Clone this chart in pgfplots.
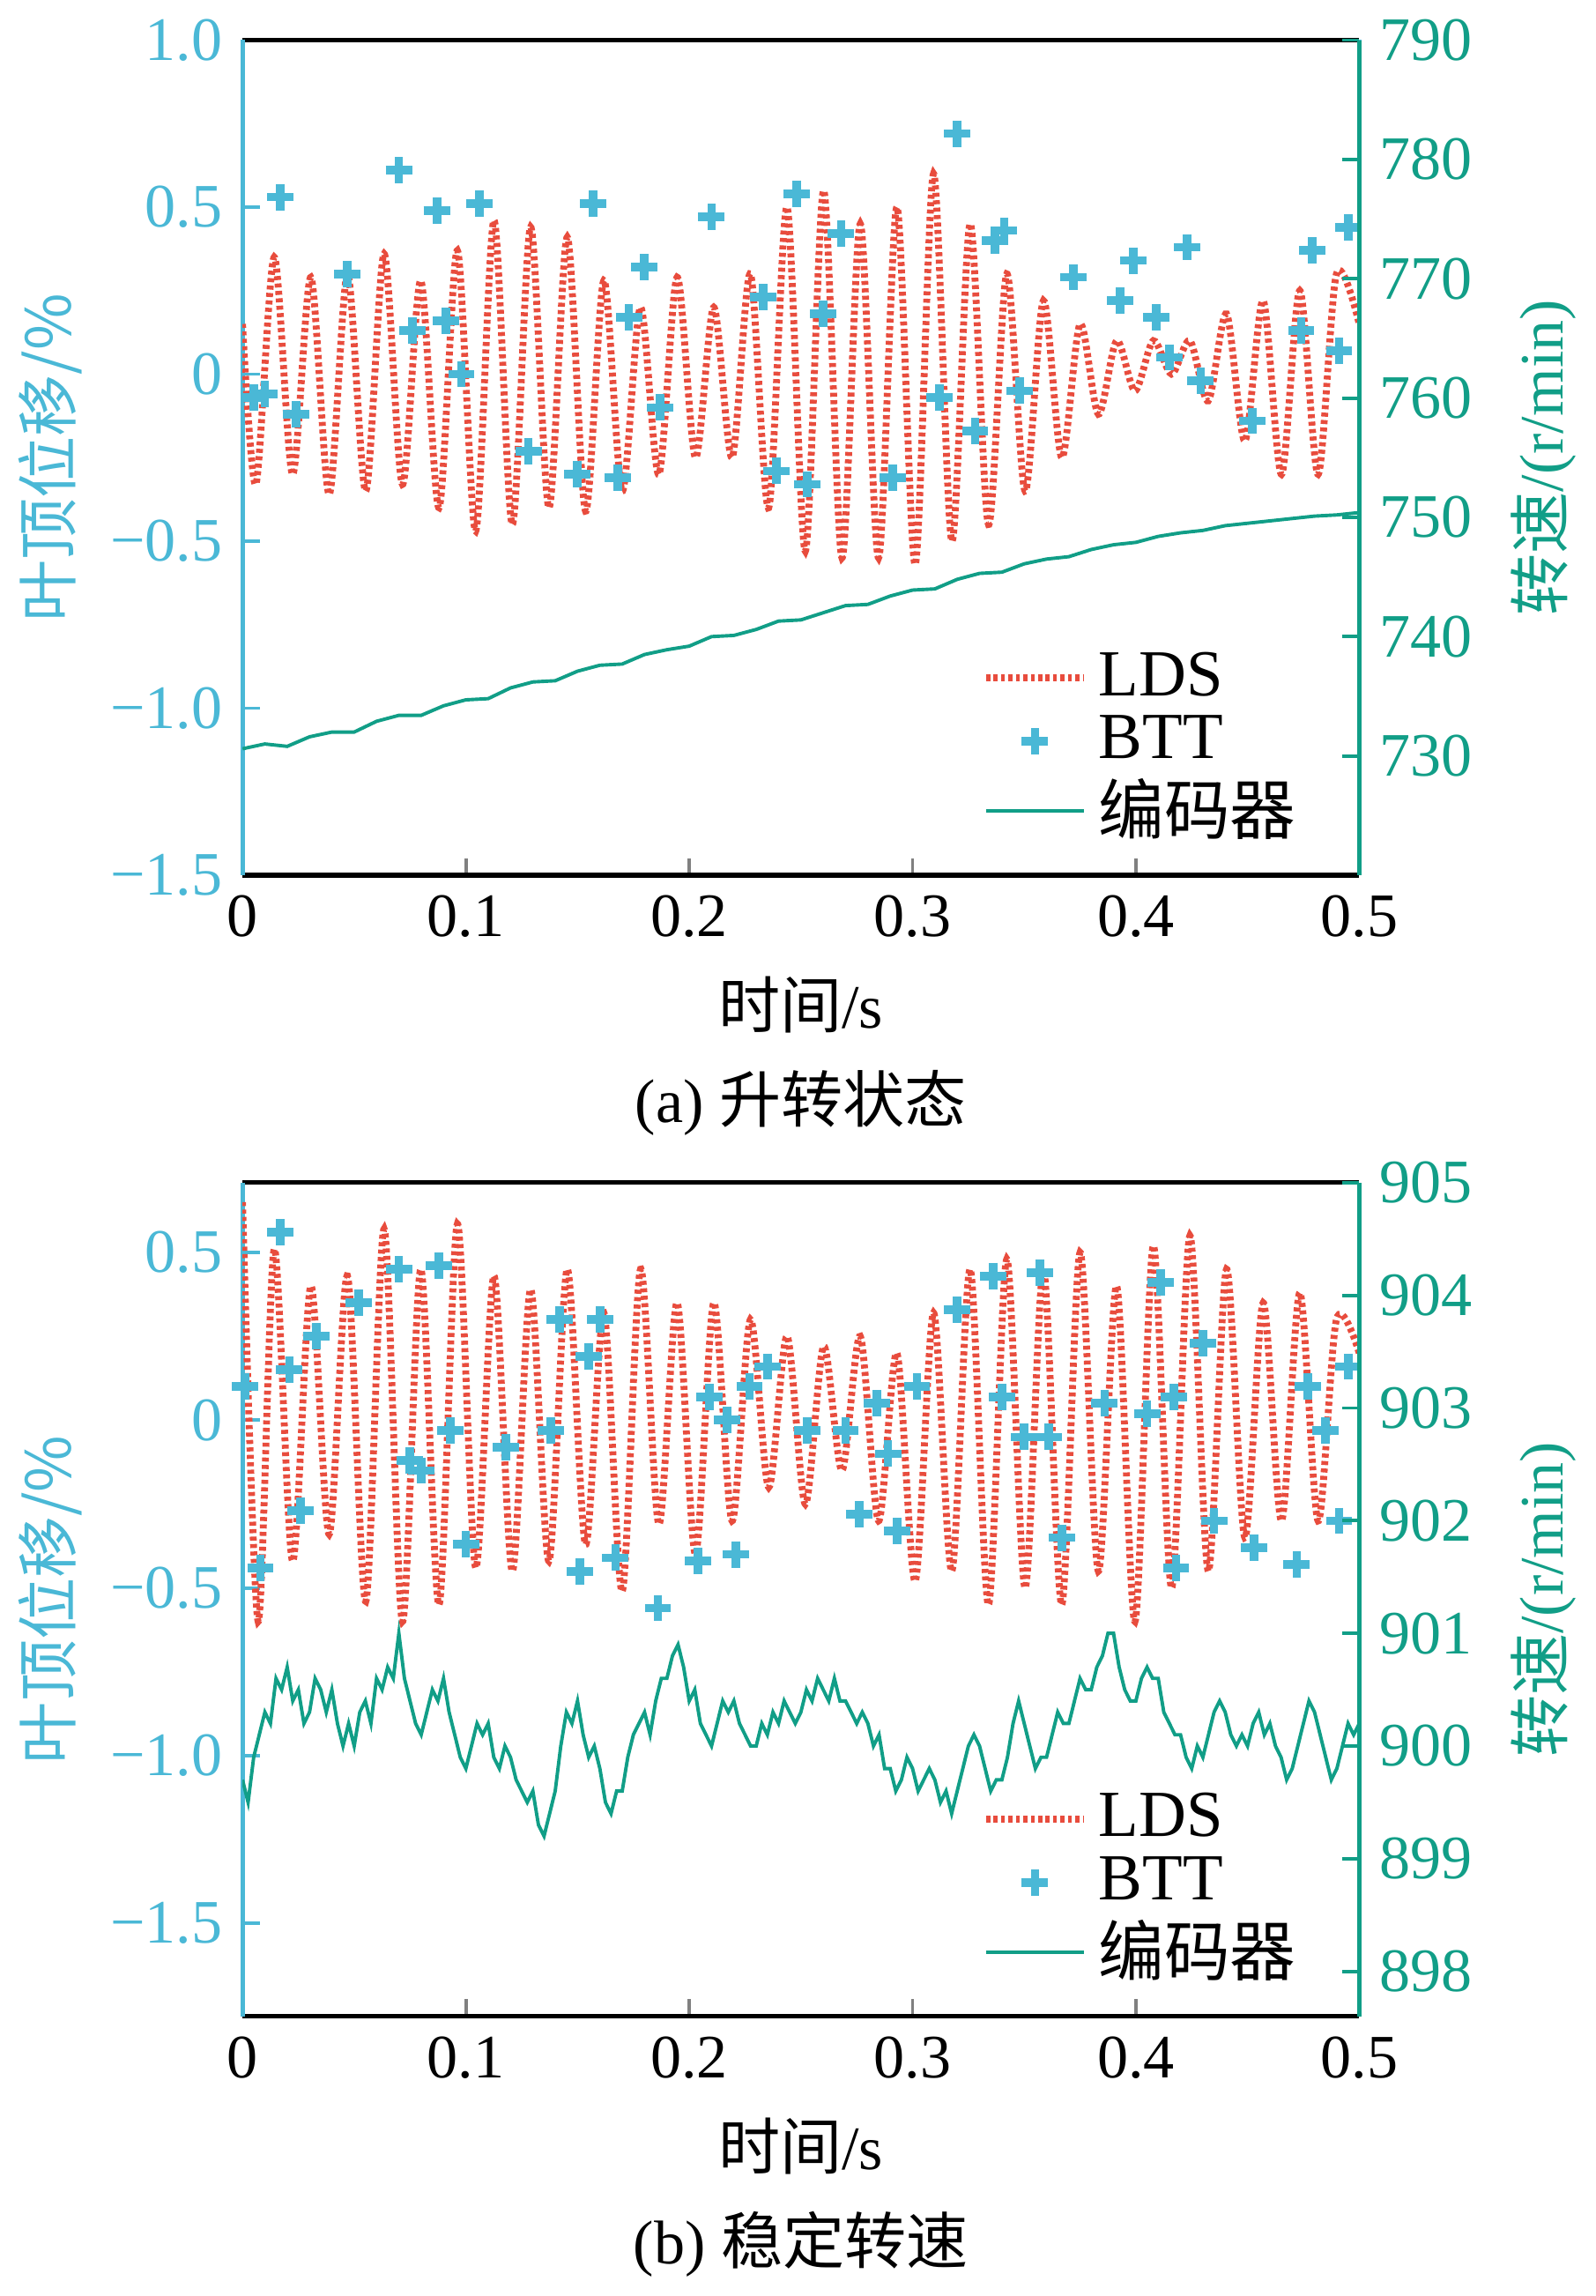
\documentclass[border=0pt]{standalone}
\usepackage{pgfplots}
\pgfplotsset{compat=1.18}
\usepackage{fontspec}
\setmainfont{Liberation Serif}
\newfontfamily\cjk{Noto Sans CJK SC}
\definecolor{cc}{HTML}{4AB8D6}
\definecolor{tt}{HTML}{119E87}
\definecolor{rr}{HTML}{E84C3D}
\pgfplotsset{
 base/.style={width=195.25pt,height=146pt,scale only axis,xmin=0,xmax=0.5,
  font=\fontsize{10.8}{12.5}\selectfont, /pgf/number format/assume math mode=true,
  major tick length=3pt, tick style={line width=0.6pt}},
 lds/.style={rr,line width=1.2pt,dash pattern=on 0.7pt off 0.6pt,smooth},
 btt/.style={only marks,cc,mark=+,mark size=2.3pt,mark options={line width=1.5pt}},
 enc/.style={tt,line width=0.6pt},
}
\begin{document}
\begin{tikzpicture}
% ---------- (a) ----------
\begin{axis}[base, at={(0,0)}, ymin=-1.5,ymax=1.0,
 ytick={-1.5,-1,-0.5,0,0.5,1}, yticklabels={−1.5,−1.0,−0.5,0,0.5,1.0},
 xtick={0,0.1,0.2,0.3,0.4,0.5}, xticklabels={0,0.1,0.2,0.3,0.4,0.5},
 yticklabel style={cc}, y axis line style={cc}, ytick style={cc},
 separate axis lines, x axis line style={black}, axis line style={line width=0.8pt},
 ylabel={\cjk 叶顶位移/\%}, ylabel style={cc,yshift=-2pt},
 xlabel={{\cjk 时间}/s\\[4pt](a) {\cjk 升转状态}}, xlabel style={align=center},
 ytick pos=left, xtick pos=bottom]
\addplot[lds] coordinates {
(0,0.15)(0.006,-0.33)
(0.0142,0.35)(0.0224,-0.30)(0.0306,0.29)(0.0388,-0.36)(0.047,0.30)(0.0552,-0.35)
(0.0634,0.36)(0.0716,-0.33)(0.0798,0.28)(0.088,-0.40)(0.0962,0.37)(0.1044,-0.47)
(0.1126,0.46)(0.1208,-0.45)(0.129,0.44)(0.1372,-0.40)(0.1454,0.41)(0.1536,-0.41)
(0.1618,0.28)(0.17,-0.35)(0.1782,0.2)(0.1864,-0.30)(0.1946,0.29)(0.2028,-0.25)
(0.211,0.2)(0.2192,-0.25)(0.2274,0.3)(0.2356,-0.4)(0.2438,0.5)(0.252,-0.53)
(0.2602,0.55)(0.2684,-0.55)(0.2766,0.45)(0.2848,-0.55)(0.293,0.5)(0.3012,-0.57)
(0.3094,0.6)(0.3176,-0.5)(0.3258,0.45)(0.334,-0.45)(0.3422,0.3)(0.3504,-0.35)
(0.3586,0.22)(0.3668,-0.25)(0.375,0.15)(0.3832,-0.12)(0.3914,0.1)(0.3996,-0.05)
(0.4078,0.1)(0.416,0.0)(0.4242,0.1)(0.4324,-0.08)(0.4406,0.18)(0.4488,-0.2)
(0.457,0.22)(0.4652,-0.3)(0.4734,0.25)(0.4816,-0.3)(0.4898,0.3)(0.5,0.15)};
\addplot[btt] coordinates {
(0.005,-0.07)(0.01,-0.06)(0.017,0.53)(0.024,-0.12)(0.047,0.3)(0.07,0.61)(0.076,0.13)
(0.087,0.49)(0.091,0.16)(0.098,0.0)(0.106,0.51)(0.128,-0.23)(0.15,-0.3)(0.157,0.51)
(0.168,-0.31)(0.173,0.17)(0.18,0.32)(0.187,-0.1)(0.21,0.47)(0.233,0.23)(0.239,-0.29)
(0.248,0.54)(0.253,-0.33)(0.26,0.18)(0.268,0.42)(0.291,-0.31)(0.312,-0.07)(0.32,0.72)
(0.328,-0.17)(0.337,0.4)(0.341,0.43)(0.348,-0.05)(0.372,0.29)(0.393,0.22)(0.399,0.34)
(0.409,0.17)(0.415,0.05)(0.423,0.38)(0.429,-0.02)(0.452,-0.14)(0.474,0.13)(0.479,0.37)
(0.491,0.07)(0.495,0.44)};
\end{axis}
\begin{axis}[base, at={(0,0)}, ymin=720,ymax=790, ytick={730,740,...,790},
 axis y line*=right, axis x line=none, yticklabel style={tt}, y axis line style={tt,line width=0.8pt}, ytick style={tt},
 ylabel={{\cjk 转速}/(r/min)}, ylabel style={tt},
 legend style={draw=none,fill=none,at={(0.97,0.01)},anchor=south east,font=\fontsize{11.5}{13}\selectfont,row sep=-2pt},
 legend cell align=left]
\addlegendimage{lds,sharp plot}\addlegendentry{LDS}
\addlegendimage{btt}\addlegendentry{BTT}
\addplot[enc] coordinates {
(0,730.6)(0.01,731.0)(0.02,730.8)(0.03,731.6)(0.04,732.0)(0.05,732.0)(0.06,732.9)(0.07,733.4)
(0.08,733.4)(0.09,734.2)(0.1,734.7)(0.11,734.8)(0.12,735.7)(0.13,736.2)(0.14,736.3)(0.15,737.1)
(0.16,737.6)(0.17,737.7)(0.18,738.5)(0.19,738.9)(0.2,739.2)(0.21,740.0)(0.22,740.1)(0.23,740.6)
(0.24,741.3)(0.25,741.4)(0.26,742.0)(0.27,742.6)(0.28,742.7)(0.29,743.4)(0.3,743.9)(0.31,744.0)
(0.32,744.8)(0.33,745.3)(0.34,745.4)(0.35,746.1)(0.36,746.5)(0.37,746.7)(0.38,747.3)(0.39,747.7)
(0.4,747.9)(0.41,748.4)(0.42,748.7)(0.43,748.9)(0.44,749.3)(0.45,749.5)(0.46,749.7)(0.47,749.9)
(0.48,750.1)(0.49,750.2)(0.5,750.4)};
\addlegendentry{\cjk 编码器}
\end{axis}
% ---------- (b) ----------
\begin{axis}[base, at={(0,-199.5pt)}, height=145.75pt, ymin=-1.777,ymax=0.708,
 ytick={-1.5,-1,-0.5,0,0.5}, yticklabels={−1.5,−1.0,−0.5,0,0.5},
 xtick={0,0.1,0.2,0.3,0.4,0.5}, xticklabels={0,0.1,0.2,0.3,0.4,0.5},
 yticklabel style={cc}, y axis line style={cc}, ytick style={cc},
 separate axis lines, x axis line style={black}, axis line style={line width=0.8pt},
 ylabel={\cjk 叶顶位移/\%}, ylabel style={cc,yshift=-2pt},
 xlabel={{\cjk 时间}/s\\[4pt](b) {\cjk 稳定转速}}, xlabel style={align=center},
 ytick pos=left, xtick pos=bottom]
\addplot[lds] coordinates {
(0,0.65)(0.007,-0.60)
(0.0142,0.51)(0.0224,-0.42)(0.0306,0.40)(0.0388,-0.34)(0.047,0.43)(0.0552,-0.54)
(0.0634,0.57)(0.0716,-0.60)(0.0798,0.45)(0.088,-0.55)(0.0962,0.585)(0.1044,-0.44)
(0.1126,0.43)(0.1208,-0.45)(0.129,0.39)(0.1372,-0.42)(0.1454,0.45)(0.1536,-0.37)
(0.1618,0.32)(0.17,-0.51)(0.1782,0.45)(0.1864,-0.31)(0.1946,0.35)(0.2028,-0.4)
(0.211,0.35)(0.2192,-0.3)(0.2274,0.3)(0.2356,-0.2)(0.2438,0.25)(0.252,-0.25)
(0.2602,0.22)(0.2684,-0.15)(0.2766,0.25)(0.2848,-0.3)(0.293,0.2)(0.3012,-0.48)
(0.3094,0.32)(0.3176,-0.45)(0.3258,0.45)(0.334,-0.55)(0.3422,0.48)(0.3504,-0.5)
(0.3586,0.45)(0.3668,-0.55)(0.375,0.5)(0.3832,-0.45)(0.3914,0.4)(0.3996,-0.6)
(0.4078,0.52)(0.416,-0.5)(0.4242,0.55)(0.4324,-0.45)(0.4406,0.45)(0.4488,-0.35)
(0.457,0.35)(0.4652,-0.3)(0.4734,0.38)(0.4816,-0.3)(0.4898,0.3)(0.5,0.2)};
\addplot[btt] coordinates {
(0.001,0.1)(0.008,-0.44)(0.017,0.56)(0.021,0.15)(0.026,-0.27)(0.033,0.25)(0.052,0.35)
(0.07,0.45)(0.075,-0.12)(0.08,-0.15)(0.088,0.46)(0.093,-0.03)(0.1,-0.37)(0.118,-0.08)
(0.138,-0.03)(0.142,0.3)(0.151,-0.45)(0.155,0.19)(0.16,0.3)(0.167,-0.41)(0.186,-0.56)
(0.204,-0.42)(0.209,0.07)(0.217,0.0)(0.221,-0.4)(0.227,0.1)(0.235,0.16)(0.253,-0.03)
(0.27,-0.03)(0.276,-0.28)(0.284,0.05)(0.289,-0.1)(0.293,-0.33)(0.302,0.1)(0.32,0.33)
(0.336,0.43)(0.34,0.07)(0.35,-0.05)(0.357,0.44)(0.361,-0.05)(0.367,-0.35)(0.386,0.05)
(0.405,0.02)(0.411,0.41)(0.417,0.07)(0.43,0.23)(0.418,-0.44)(0.435,-0.3)(0.453,-0.38)
(0.472,-0.43)(0.477,0.1)(0.485,-0.03)(0.491,-0.3)(0.495,0.16)};
\end{axis}
\begin{axis}[base, at={(0,-199.5pt)}, height=145.75pt, ymin=897.6,ymax=905, ytick={898,899,...,905},
 axis y line*=right, axis x line=none, yticklabel style={tt}, y axis line style={tt,line width=0.8pt}, ytick style={tt},
 ylabel={{\cjk 转速}/(r/min)}, ylabel style={tt},
 legend style={draw=none,fill=none,at={(0.97,0.01)},anchor=south east,font=\fontsize{11.5}{13}\selectfont,row sep=-2pt},
 legend cell align=left]
\addlegendimage{lds,sharp plot}\addlegendentry{LDS}
\addlegendimage{btt}\addlegendentry{BTT}
\addplot[enc] coordinates {
(0,899.7)(0.0025,899.5)(0.005,899.9)(0.0075,900.1)(0.01,900.3)(0.0125,900.2)(0.015,900.6)(0.0175,900.5)
(0.02,900.7)(0.0225,900.4)(0.025,900.5)(0.0275,900.2)(0.03,900.3)(0.0325,900.6)(0.035,900.5)(0.0375,900.3)
(0.04,900.5)(0.0425,900.2)(0.045,900.0)(0.0475,900.2)(0.05,900.0)(0.0525,900.3)(0.055,900.4)(0.0575,900.2)
(0.06,900.6)(0.0625,900.5)(0.065,900.7)(0.0675,900.6)(0.07,901.0)(0.0725,900.6)(0.075,900.4)(0.0775,900.2)
(0.08,900.1)(0.0825,900.3)(0.085,900.5)(0.0875,900.4)(0.09,900.6)(0.0925,900.3)(0.095,900.1)(0.0975,899.9)
(0.1,899.8)(0.1025,900.0)(0.105,900.2)(0.1075,900.1)(0.11,900.2)(0.1125,899.9)(0.115,899.8)(0.1175,900.0)
(0.12,899.9)(0.1225,899.7)(0.125,899.6)(0.1275,899.5)(0.13,899.6)(0.1325,899.3)(0.135,899.2)(0.1375,899.4)
(0.14,899.6)(0.1425,900.0)(0.145,900.3)(0.1475,900.2)(0.15,900.4)(0.1525,900.1)(0.155,899.9)(0.1575,900.0)
(0.16,899.8)(0.1625,899.5)(0.165,899.4)(0.1675,899.6)(0.17,899.6)(0.1725,899.9)(0.175,900.1)(0.1775,900.2)
(0.18,900.3)(0.1825,900.1)(0.185,900.4)(0.1875,900.6)(0.19,900.6)(0.1925,900.8)(0.195,900.9)(0.1975,900.7)
(0.2,900.4)(0.2025,900.5)(0.205,900.2)(0.2075,900.1)(0.21,900.0)(0.2125,900.2)(0.215,900.4)(0.2175,900.3)
(0.22,900.4)(0.2225,900.2)(0.225,900.1)(0.2275,900.0)(0.23,900.0)(0.2325,900.2)(0.235,900.1)(0.2375,900.3)
(0.24,900.2)(0.2425,900.4)(0.245,900.3)(0.2475,900.2)(0.25,900.3)(0.2525,900.5)(0.255,900.4)(0.2575,900.6)
(0.26,900.5)(0.2625,900.4)(0.265,900.6)(0.2675,900.4)(0.27,900.4)(0.2725,900.3)(0.275,900.2)(0.2775,900.3)
(0.28,900.2)(0.2825,900.0)(0.285,900.1)(0.2875,899.8)(0.29,899.8)(0.2925,899.6)(0.295,899.7)(0.2975,899.9)
(0.3,899.8)(0.3025,899.6)(0.305,899.7)(0.3075,899.8)(0.31,899.7)(0.3125,899.5)(0.315,899.6)(0.3175,899.4)
(0.32,899.6)(0.3225,899.8)(0.325,900.0)(0.3275,900.1)(0.33,900.0)(0.3325,899.8)(0.335,899.6)(0.3375,899.7)
(0.34,899.7)(0.3425,899.9)(0.345,900.2)(0.3475,900.4)(0.35,900.2)(0.3525,900.0)(0.355,899.8)(0.3575,899.9)
(0.36,899.9)(0.3625,900.1)(0.365,900.3)(0.3675,900.2)(0.37,900.2)(0.3725,900.4)(0.375,900.6)(0.3775,900.5)
(0.38,900.5)(0.3825,900.7)(0.385,900.8)(0.3875,901.0)(0.39,901.0)(0.3925,900.7)(0.395,900.5)(0.3975,900.4)
(0.4,900.4)(0.4025,900.6)(0.405,900.7)(0.4075,900.6)(0.41,900.6)(0.4125,900.3)(0.415,900.2)(0.4175,900.1)
(0.42,900.1)(0.4225,899.9)(0.425,899.8)(0.4275,900.0)(0.43,899.9)(0.4325,900.1)(0.435,900.3)(0.4375,900.4)
(0.44,900.3)(0.4425,900.1)(0.445,900.0)(0.4475,900.1)(0.45,900.0)(0.4525,900.2)(0.455,900.3)(0.4575,900.1)
(0.46,900.2)(0.4625,900.0)(0.465,899.9)(0.4675,899.7)(0.47,899.8)(0.4725,900.0)(0.475,900.2)(0.4775,900.4)
(0.48,900.3)(0.4825,900.1)(0.485,899.9)(0.4875,899.7)(0.49,899.8)(0.4925,900.0)(0.495,900.2)(0.4975,900.1)
(0.5,900.2)};
\addlegendentry{\cjk 编码器}
\end{axis}
\end{tikzpicture}
\end{document}
